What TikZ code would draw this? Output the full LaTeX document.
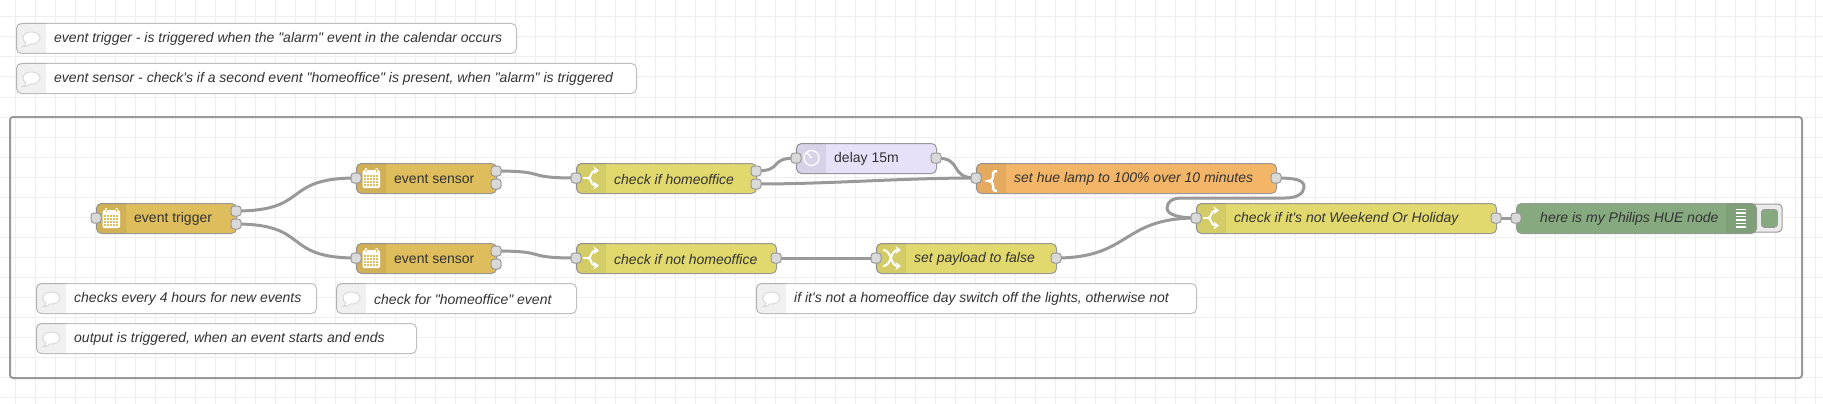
\documentclass[tikz,border=0pt]{standalone}
\usepackage{fontspec}
\setmainfont[Ligatures=TeXOff]{Liberation Sans}
\usetikzlibrary{backgrounds}
\usetikzlibrary{arrows.meta}

\definecolor{gridline}{HTML}{EEEEEE}
\definecolor{wire}{HTML}{999999}
\definecolor{calfill}{HTML}{DEBD5C}
\definecolor{swfill}{HTML}{E2D96E}
\definecolor{fnfill}{HTML}{F3B567}
\definecolor{dlfill}{HTML}{E6E0F8}
\definecolor{huefill}{HTML}{87A980}
\definecolor{portfill}{HTML}{D9D9D9}

\tikzset{
  nodebox/.style={draw=wire, line width=1pt, rounded corners=5pt, inner sep=0pt,
    minimum height=30pt, anchor=north west},
  notebox/.style={nodebox, draw=black!25, fill=white},
  port/.style={draw=wire, line width=1pt, fill=portfill, rounded corners=3pt,
    inner sep=0pt, minimum size=10pt},
  lab/.style={anchor=west, inner sep=0pt, text=black!80,
    font=\fontsize{14}{16}\selectfont},
  link/.style={draw=wire, line width=3pt},
  glyph/.style={draw=white, line width=2pt},
  glyphtip/.style={glyph, -{Stealth[length=5.5pt,width=8pt]}}
}

% name, x, y, width, fill, label font, text
\newcommand{\flownode}[7]{
  \node[nodebox, fill=#5, minimum width=#4pt] (#1) at (#2,#3) {};
  \fill[black, opacity=.06] (#2+30,#3) [rounded corners=5pt] -- (#2,#3) -- (#2,#3+30)
    [sharp corners] -- (#2+30,#3+30) -- cycle;
  \node[lab, font=\fontsize{14}{16}\selectfont#6] (#1 text) at (#2+38,#3+16) {#7};
}
% name, x, y, width, text
\newcommand{\flownote}[5]{
  \node[notebox, minimum width=#4pt] (#1) at (#2,#3) {};
  \fill[black, opacity=.06] (#2+30,#3) [rounded corners=5pt] -- (#2,#3) -- (#2,#3+30)
    [sharp corners] -- (#2+30,#3+30) -- cycle;
  \draw[black!15, fill=white, line width=1pt] (#2+10,#3+20) .. controls (#2+10,#3+22) and (#2+8,#3+23) .. (#2+7,#3+23.5)
    .. controls (#2+11,#3+23.5) and (#2+13,#3+22) .. (#2+14,#3+21)
    .. controls (#2+20,#3+21.5) and (#2+24,#3+18.5) .. (#2+24,#3+15)
    .. controls (#2+24,#3+11) and (#2+20,#3+9) .. (#2+15,#3+9)
    .. controls (#2+10,#3+9) and (#2+7,#3+11.5) .. (#2+7,#3+15)
    .. controls (#2+7,#3+17) and (#2+8,#3+19) .. cycle;
  \node[lab, font=\fontsize{14}{16}\selectfont\itshape] (#1 text) at (#2+38,#3+16) {#5};
}
\newcommand{\calicon}[2]{
  \fill[white, rounded corners=1.5pt] (#1+6.5,#2+7) rectangle (#1+24,#2+25);
  \fill[white] (#1+9,#2+5) rectangle (#1+11,#2+8) (#1+19.5,#2+5) rectangle (#1+21.5,#2+8);
  \fill[calfill] (#1+9.5,#2+6) rectangle (#1+10.5,#2+9) (#1+20,#2+6) rectangle (#1+21,#2+9);
  \foreach \cx in {0,1,2,3,4} \foreach \cy in {0,1,2,3}
    \fill[calfill] (#1+8.2+\cx*3,#2+12.2+\cy*3) rectangle ++(2.2,2.2);
}
\newcommand{\swicon}[2]{
  \draw[glyph] (#1+7,#2+15) -- (#1+12,#2+15);
  \draw[glyphtip] (#1+12,#2+15) .. controls (#1+16,#2+15) and (#1+14,#2+7.5) .. (#1+23,#2+7.5);
  \draw[glyphtip] (#1+12,#2+15) .. controls (#1+16,#2+15) and (#1+14,#2+22.5) .. (#1+23,#2+22.5);
}
\begin{document}
\begin{tikzpicture}[x=1pt, y=-1pt]
  \useasboundingbox (0,0) rectangle (1823,404);

  % comments above the group
  \flownote{noteTrigger}{16}{23}{500}{event trigger - is triggered when the "alarm" event in the calendar occurs}
  \flownote{noteSensor}{16}{63}{620}{event sensor - check's if a second event "homeoffice" is present, when "alarm" is triggered}

  % calendar nodes
  \flownode{trigger}{96}{203}{140}{calfill}{}{event trigger}
  \calicon{96}{203}
  \node[port] (triggerIn) at (96,218) {};
  \node[port] (triggerOutA) at (236,211) {};
  \node[port] (triggerOutB) at (236,224) {};

  \flownode{sensorA}{356}{163}{140}{calfill}{}{event sensor}
  \calicon{356}{163}
  \node[port] (sensorAIn) at (356,178) {};
  \node[port] (sensorAOutA) at (496,171) {};
  \node[port] (sensorAOutB) at (496,184) {};

  \flownode{sensorB}{356}{243}{140}{calfill}{}{event sensor}
  \calicon{356}{243}
  \node[port] (sensorBIn) at (356,258) {};
  \node[port] (sensorBOutA) at (496,251) {};
  \node[port] (sensorBOutB) at (496,264) {};

  % switches
  \flownode{checkHome}{576}{163}{180}{swfill}{\itshape}{check if homeoffice}
  \swicon{576}{163}
  \node[port] (checkHomeIn) at (576,178) {};
  \node[port] (checkHomeOutA) at (756,171) {};
  \node[port] (checkHomeOutB) at (756,184) {};

  \flownode{checkNot}{576}{243}{200}{swfill}{\itshape}{check if not homeoffice}
  \swicon{576}{243}
  \node[port] (checkNotIn) at (576,258) {};
  \node[port] (checkNotOut) at (776,258) {};

  \flownode{checkDay}{1196}{203}{300}{swfill}{\itshape}{check if it's not Weekend Or Holiday}
  \swicon{1196}{203}
  \node[port] (checkDayIn) at (1196,218) {};
  \node[port] (checkDayOut) at (1496,218) {};

  % delay, change, function
  \flownode{delay}{796}{143}{140}{dlfill}{}{delay 15m}
  \draw[white, opacity=.85, line width=1.5pt] (811.5,158) circle (7.5) (811.5,158) -- (806.5,152);
  \node[port] (delayIn) at (796,158) {};
  \node[port] (delayOut) at (936,158) {};

  \flownode{payload}{876}{243}{180}{swfill}{\itshape}{set payload to false}
  \draw[glyphtip] (883,250) .. controls (892,250) and (890,266) .. (901,266);
  \draw[glyphtip] (883,266) .. controls (892,266) and (890,250) .. (901,250);
  \node[port] (payloadIn) at (876,258) {};
  \node[port] (payloadOut) at (1056,258) {};

  \flownode{hue}{976}{163}{300}{fnfill}{\itshape}{set hue lamp to 100\% over 10 minutes}
  \draw[glyph, line width=2.4pt] (997,171) .. controls (992,171) and (993,174) .. (993,177)
    .. controls (993,180) and (991,181) .. (988.5,181)
    .. controls (991,181) and (993,182) .. (993,185)
    .. controls (993,188) and (992,191) .. (997,191);
  \node[port] (hueIn) at (976,178) {};
  \node[port] (hueOut) at (1276,178) {};

  % lamp output with its button
  \draw[draw=wire, line width=1pt, fill=black!8, rounded corners=4pt] (1750,204) rectangle (1782,232);
  \node[nodebox, fill=huefill, minimum width=240pt] (lamp) at (1516,203) {};
  \fill[black, opacity=.06] (1726,203) [rounded corners=5pt] -- (1756,203) -- (1756,233)
    [sharp corners] -- (1726,233) -- cycle;
  \node[lab, font=\fontsize{14}{16}\selectfont\itshape] (lampText) at (1540,219) {here is my Philips HUE node};
  \foreach \ty in {209.5,213,216.5,220,223.5,227}
    \draw[white, line width=1.2pt] (1736,\ty) -- (1746,\ty);
  \node[draw=wire, line width=.8pt, fill=huefill, rounded corners=3pt, inner sep=0pt,
    minimum width=16pt, minimum height=18pt, anchor=north west] (lampButton) at (1761,209) {};
  \node[port] (lampIn) at (1516,218) {};

  % comments inside the group
  \flownote{noteHours}{36}{283}{280}{checks every 4 hours for new events}
  \flownote{noteOutput}{36}{323}{380}{output is triggered, when an event starts and ends}
  \flownote{noteHome}{336}{283}{240}{check for "homeoffice" event}
  \flownote{noteOff}{756}{283}{440}{if it's not a homeoffice day switch off the lights, otherwise not}

  \begin{scope}[on background layer]
    \fill[white] (0,0) rectangle (1823,404);
    \foreach \gx in {15,35,...,1815}
      \draw[gridline, line width=1pt] (\gx,0) -- (\gx,404);
    \foreach \gy in {17,37,...,397}
      \draw[gridline, line width=1pt] (0,\gy) -- (1823,\gy);
    \draw[draw=wire, line width=2pt, rounded corners=3pt] (10,117) rectangle (1802,378);

    \draw[link] (triggerOutA.center) .. controls +(75,0) and +(-75,0) .. (sensorAIn.center);
    \draw[link] (triggerOutB.center) .. controls +(75,0) and +(-75,0) .. (sensorBIn.center);
    \draw[link] (sensorAOutA.center) .. controls +(55,0) and +(-55,0) .. (checkHomeIn.center);
    \draw[link] (sensorBOutA.center) .. controls +(55,0) and +(-55,0) .. (checkNotIn.center);
    \draw[link] (checkHomeOutA.center) .. controls +(28,0) and +(-28,0) .. (delayIn.center);
    \draw[link] (checkHomeOutB.center) .. controls +(75,0) and +(-75,0) .. (hueIn.center);
    \draw[link] (delayOut.center) .. controls +(28,0) and +(-28,0) .. (hueIn.center);
    \draw[link] (checkNotOut.center) -- (payloadIn.center);
    \draw[link] (payloadOut.center) .. controls +(75,0) and +(-75,0) .. (checkDayIn.center);
    \draw[link] (hueOut.center) .. controls +(20,0) and (1304,180) .. (1304,187)
      .. controls (1304,194) and (1296,198) .. (1285,198) -- (1182,198)
      .. controls (1172,198) and (1167,202) .. (1167,208)
      .. controls (1167,215) and (1180,218) .. (checkDayIn.center);
    \draw[link] (checkDayOut.center) -- (lampIn.center);
  \end{scope}
\end{tikzpicture}
\end{document}
